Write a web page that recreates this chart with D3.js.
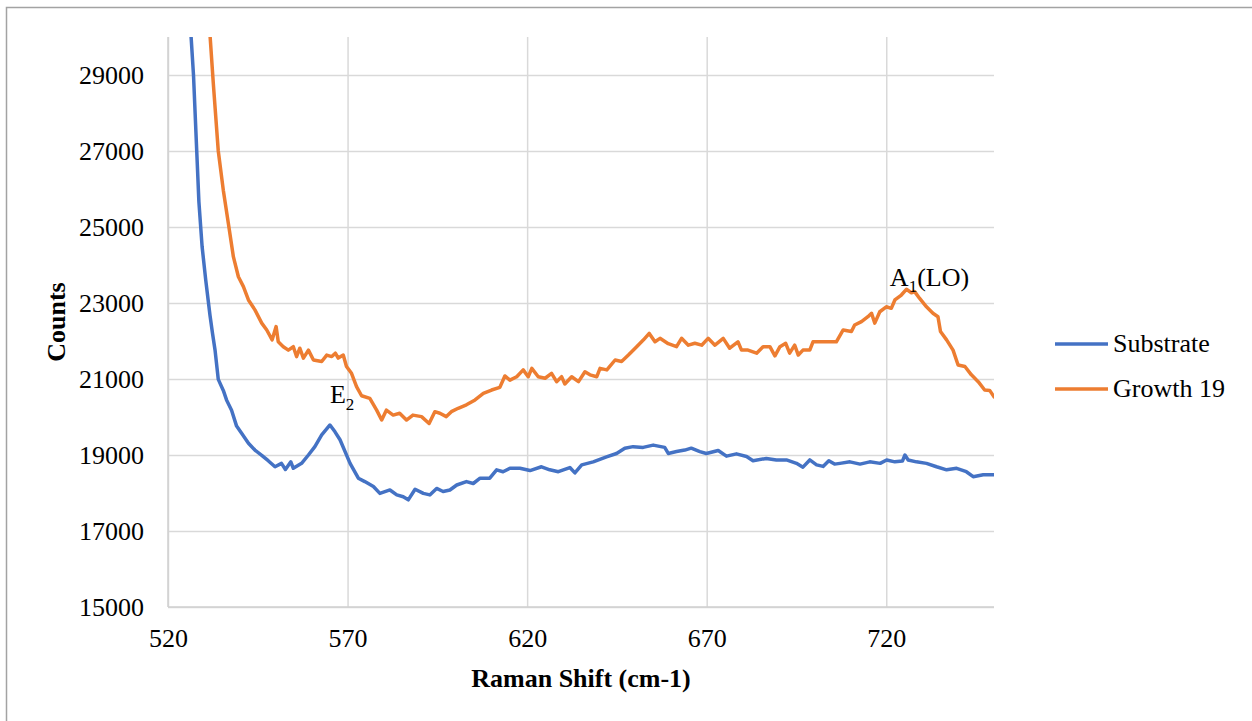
<!DOCTYPE html>
<html>
<head>
<meta charset="utf-8">
<script src="https://cdn.jsdelivr.net/npm/d3@7"></script>
<style>
    body { margin: 0; background: #fff; }
</style>
</head>
<body>
<svg id="chart" width="1252" height="721"></svg>
<script>
// Raman spectra, values
const substrateShift = [525.5, 526.4, 527.1, 528.0, 528.6, 529.5, 530.5, 531.7, 532.4, 533.1, 534.0, 535.4, 536.3, 537.7,
    539.1, 540.5, 542.4, 544.2, 546.1, 547.9, 549.8, 551.6, 552.7, 554.2, 554.9, 557.2, 559.1, 560.9, 562.8, 565.1, 566.5,
    567.9, 570.7, 573.0, 574.8, 577.2, 579.0, 581.8, 583.7, 585.5, 586.9, 588.8, 591.1, 592.9, 594.8, 596.6, 598.5,
    600.4, 603.1, 605.0, 606.9, 609.6, 611.5, 613.3, 615.2, 618.0, 620.8, 624.0, 626.3, 628.7, 631.9, 633.3, 635.2,
    638.4, 642.1, 644.9, 647.2, 649.5, 652.3, 655.1, 658.3, 659.3, 661.6, 663.9, 665.7, 668.1, 669.9, 673.2, 675.5,
    678.3, 681.1, 682.9, 686.6, 689.4, 692.2, 695.0, 696.8, 698.7, 700.6, 702.4, 704.0, 705.6, 707.1, 709.9, 712.7,
    715.4, 718.3, 720.1, 722.4, 724.5, 725.2, 726.1, 728.4, 731.2, 734.0, 736.8, 739.6, 742.3, 744.2, 747.0, 750.0];
const substrateCounts = [31600, 30050, 29000, 27000, 25670, 24480, 23610, 22670, 22200, 21760, 20990, 20700, 20450, 20180,
    19760, 19570, 19310, 19130, 18990, 18850, 18690, 18780, 18620, 18820, 18650, 18780, 19000, 19220, 19530, 19790, 19610,
    19400, 18780, 18390, 18300, 18170, 17990, 18080, 17950, 17900, 17820, 18100, 17990, 17950, 18120, 18040, 18080,
    18210, 18300, 18250, 18390, 18390, 18610, 18560, 18650, 18650, 18590, 18690, 18610, 18560, 18670, 18530, 18740,
    18820, 18950, 19040, 19180, 19220, 19200, 19260, 19200, 19040, 19090, 19130, 19180, 19090, 19040, 19120, 18970,
    19030, 18960, 18850, 18910, 18870, 18870, 18780, 18680, 18870, 18740, 18700, 18850, 18760, 18780, 18820, 18760,
    18820, 18780, 18870, 18820, 18840, 19000, 18870, 18820, 18780, 18690, 18610, 18650, 18560, 18430, 18480, 18480];

const growthShift = [530.8, 531.7, 532.6, 534.0, 535.4, 536.8, 538.2, 539.6, 541.0, 542.4, 544.2, 546.1, 547.5, 549.0,
    550.1, 550.7, 552.1, 553.5, 554.9, 555.8, 556.7, 557.7, 559.1, 560.5, 562.8, 564.2, 565.6, 566.6, 567.4, 568.8,
    569.7, 571.1, 572.5, 573.9, 576.2, 578.1, 579.5, 580.8, 582.7, 584.5, 586.4, 588.2, 590.6, 592.7, 594.3, 595.7,
    597.5, 598.9, 600.8, 603.1, 605.5, 607.8, 610.1, 612.4, 613.8, 615.2, 617.1, 618.9, 620.3, 621.3, 623.1, 625.0,
    626.8, 628.2, 629.6, 630.5, 632.4, 634.3, 636.1, 637.5, 639.4, 640.3, 642.2, 644.5, 646.3, 648.2, 650.5, 652.4,
    654.0, 655.6, 657.0, 659.3, 661.6, 663.0, 664.9, 666.7, 668.6, 670.4, 672.3, 674.6, 676.4, 678.7, 679.7, 681.5,
    683.9, 685.7, 687.6, 689.0, 690.4, 692.0, 693.1, 694.5, 695.5, 696.8, 698.7, 699.6, 702.4, 704.3, 706.1, 708.0,
    710.3, 711.2, 713.1, 714.9, 715.9, 716.8, 718.2, 720.0, 721.4, 722.4, 724.2, 725.6, 727.0, 727.9, 729.3, 731.2,
    733.0, 734.4, 735.1, 736.8, 738.6, 740.0, 741.9, 743.7, 745.6, 747.4, 748.8, 750.0];
const growthCounts = [32000, 30050, 28800, 27000, 25970, 25100, 24220, 23690, 23430, 23080, 22820, 22470, 22290, 22030,
    22380, 21980, 21850, 21760, 21850, 21590, 21810, 21550, 21760, 21500, 21460, 21630, 21590, 21680, 21550, 21630,
    21330, 21150, 20800, 20560, 20490, 20180, 19920, 20180, 20050, 20100, 19920, 20050, 20010, 19830, 20140, 20100,
    20010, 20140, 20230, 20320, 20450, 20620, 20710, 20780, 21080, 20970, 21060, 21240, 21060, 21280, 21060, 21020,
    21150, 20930, 21060, 20870, 21060, 20930, 21190, 21110, 21060, 21280, 21240, 21500, 21460, 21630, 21850, 22030,
    22200, 21980, 22070, 21930, 21850, 22070, 21890, 21940, 21890, 22070, 21890, 22070, 21810, 21980, 21760, 21760,
    21680, 21850, 21850, 21610, 21850, 21940, 21680, 21890, 21630, 21760, 21760, 21980, 21980, 21980, 21980, 22290,
    22250, 22420, 22510, 22640, 22730, 22470, 22770, 22900, 22860, 23080, 23210, 23360, 23270, 23300, 23120, 22900,
    22730, 22640, 22250, 22030, 21760, 21370, 21330, 21110, 20930, 20710, 20700, 20530];

const seriesNames = ["Substrate", "Growth 19"];
const seriesColors = ["#4472C4", "#ED7D31"];
const xTicks = [520, 570, 620, 670, 720];
const yTicks = [15000, 17000, 19000, 21000, 23000, 25000, 27000, 29000];

const serif = "'Liberation Serif', 'Times New Roman', Times, serif";
const margin = {top: 37, left: 168};
const width = 826;
const height = 570;

const svg = d3.select("#chart");

// outer chart border (only top/left visible in the picture)
svg.append("rect")
    .attr("x", 6.5).attr("y", 7.5)
    .attr("width", 1400).attr("height", 900)
    .attr("fill", "none")
    .attr("stroke", "#a3a3a3")
    .attr("stroke-width", 1.5);

const x = d3.scaleLinear().domain([520, 750]).range([0, width]);
const y = d3.scaleLinear().domain([15000, 30000]).range([height, 0]);

const g = svg.append("g").attr("transform", `translate(${margin.left},${margin.top})`);

g.append("clipPath").attr("id", "plot-clip")
    .append("rect").attr("width", width).attr("height", height);

// gridlines via axes
g.append("g")
    .call(d3.axisLeft(y).tickValues(yTicks).tickSize(-width).tickFormat(""))
    .call(a => a.select(".domain").remove())
    .call(a => a.selectAll("line").attr("stroke", "#d9d9d9").attr("stroke-width", 1.5));

g.append("g")
    .call(d3.axisBottom(x).tickValues(xTicks).tickSize(height).tickFormat(""))
    .call(a => a.select(".domain").remove())
    .call(a => a.selectAll("line").attr("stroke", "#d9d9d9").attr("stroke-width", 1.5));

// axis lines
g.append("line").attr("x1", 0).attr("x2", width).attr("y1", height).attr("y2", height)
    .attr("stroke", "#d0d0d0").attr("stroke-width", 1.5);
g.append("line").attr("x1", 0).attr("x2", 0).attr("y1", 0).attr("y2", height)
    .attr("stroke", "#d0d0d0").attr("stroke-width", 1.5);

// tick labels
g.append("g")
    .call(d3.axisLeft(y).tickValues(yTicks).tickSize(0).tickPadding(24).tickFormat(d3.format("d")))
    .call(a => a.select(".domain").remove())
    .call(a => a.selectAll("text")
        .style("font-family", serif).style("font-size", "26px")
        .attr("fill", "#000").attr("dy", "0.32em"));

g.append("g")
    .attr("transform", `translate(0,${height})`)
    .call(d3.axisBottom(x).tickValues(xTicks).tickSize(0).tickFormat(d3.format("d")))
    .call(a => a.select(".domain").remove())
    .call(a => a.selectAll("text")
        .style("font-family", serif).style("font-size", "26px")
        .attr("fill", "#000").attr("y", 40).attr("dy", 0));

// series lines
const line = d3.line()
    .x(d => x(d[0]))
    .y(d => y(d[1]));

const series = [
    d3.zip(substrateShift, substrateCounts),
    d3.zip(growthShift, growthCounts)
];

g.append("g").attr("clip-path", "url(#plot-clip)")
    .selectAll("path")
    .data(series)
    .join("path")
    .attr("fill", "none")
    .attr("stroke", (_, i) => seriesColors[i])
    .attr("stroke-width", 3.5)
    .attr("stroke-linejoin", "round")
    .attr("stroke-linecap", "round")
    .attr("d", line);

// peak annotations
const e2 = g.append("text").attr("x", x(565.1)).attr("y", y(20375))
    .style("font-family", serif).style("font-size", "26px");
e2.append("tspan").text("E");
e2.append("tspan").attr("dy", 7).style("font-size", "17px").text("2");

const a1 = g.append("text").attr("x", x(721.0)).attr("y", y(23460))
    .style("font-family", serif).style("font-size", "26px");
a1.append("tspan").text("A");
a1.append("tspan").attr("dy", 6).style("font-size", "17px").text("1");
a1.append("tspan").attr("dy", -6).text("(LO)");

// axis titles
svg.append("text")
    .attr("x", margin.left + width / 2).attr("y", 687)
    .attr("text-anchor", "middle")
    .style("font-family", serif).style("font-size", "26px").style("font-weight", "bold")
    .text("Raman Shift (cm-1)");

svg.append("text")
    .attr("transform", `translate(65,${margin.top + height / 2}) rotate(-90)`)
    .attr("text-anchor", "middle")
    .style("font-family", serif).style("font-size", "26px").style("font-weight", "bold")
    .text("Counts");

// legend
const legend = svg.append("g").selectAll("g")
    .data(seriesNames)
    .join("g")
    .attr("transform", (_, i) => `translate(1055,${344 + i * 45})`);

legend.append("line")
    .attr("x1", 0).attr("x2", 53)
    .attr("stroke", (_, i) => seriesColors[i])
    .attr("stroke-width", 3.5);

legend.append("text")
    .attr("x", 58).attr("y", 8)
    .style("font-family", serif).style("font-size", "26px")
    .text(d => d);
</script>
</body>
</html>
